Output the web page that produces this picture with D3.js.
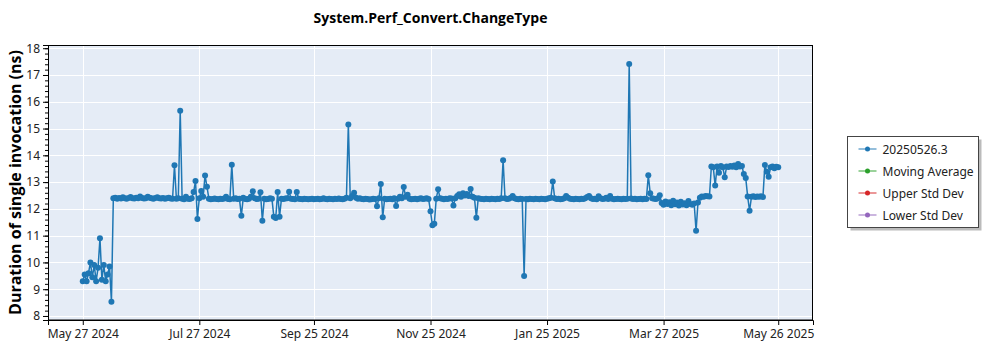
<!DOCTYPE html>
<html>
<head>
<meta charset="utf-8">
<script src="https://cdn.jsdelivr.net/npm/d3@7"></script>
<style>
  html, body { margin: 0; padding: 0; background: #fff; }
  svg { display: block; font-family: "Open Sans", "Noto Sans", sans-serif; }
</style>
</head>
<body>
<svg id="chart" width="1000" height="350"></svg>
<script>
// Benchmark run: one measurement per day, starting on this date
const startDate = "2024-05-27";

// Duration of single invocation (ns), one value per day
const durations = [
  // May 27 2024
  9.30, 9.55, 9.30, 9.60, 10.00, 9.45, 9.90, 9.30, 9.80, 10.90,
  9.35, 9.90, 9.30, 9.55, 9.85, 8.53, 12.40, 12.42, 12.38, 12.41,
  12.39, 12.43, 12.40, 12.38, 12.41, 12.44, 12.40, 12.39, 12.42, 12.40,
  12.46, 12.41, 12.39, 12.40, 12.45, 12.42, 12.40, 12.38, 12.41, 12.43,
  12.40, 12.39, 12.41, 12.38, 12.40, 12.42, 12.39, 12.38, 13.63, 12.38,
  // Jul 16 2024
  12.40, 15.66, 12.38, 12.36, 12.45, 12.38, 12.37, 12.40, 12.63, 13.04,
  11.62, 12.40, 12.67, 12.45, 13.25, 12.83, 12.38, 12.36, 12.37, 12.39,
  12.37, 12.36, 12.38, 12.37, 12.39, 12.45, 12.37, 12.36, 13.65, 12.38,
  12.40, 12.37, 12.38, 11.74, 12.42, 12.37, 12.36, 12.38, 12.45, 12.66,
  12.40, 12.37, 12.38, 12.62, 11.56, 12.38, 12.36, 12.37, 12.40, 12.38,
  // Sep 04 2024
  11.71, 11.66, 12.63, 11.71, 12.38, 12.37, 12.39, 12.40, 12.64, 12.38,
  12.37, 12.36, 12.63, 12.38, 12.37, 12.36, 12.38, 12.37, 12.36, 12.37,
  12.38, 12.36, 12.37, 12.38, 12.36, 12.37, 12.40, 12.37, 12.36, 12.38,
  12.37, 12.36, 12.38, 12.37, 12.39, 12.37, 12.36, 12.38, 12.42, 15.15,
  12.40, 12.48, 12.60, 12.42, 12.38, 12.40, 12.37, 12.36, 12.38, 12.37,
  // Oct 24 2024
  12.35, 12.36, 12.38, 12.37, 12.10, 12.40, 12.93, 11.69, 12.38, 12.36,
  12.37, 12.38, 12.36, 12.40, 12.11, 12.38, 12.45, 12.40, 12.82, 12.45,
  12.53, 12.38, 12.36, 12.37, 12.38, 12.36, 12.38, 12.40, 12.37, 12.38,
  12.40, 12.37, 11.91, 11.39, 11.44, 12.38, 12.73, 12.40, 12.38, 12.36,
  12.38, 12.37, 12.40, 12.39, 12.13, 12.40, 12.48, 12.55, 12.45, 12.58,
  // Dec 13 2024
  12.50, 12.56, 12.48, 12.74, 12.45, 12.42, 11.67, 12.40, 12.38, 12.37,
  12.36, 12.38, 12.37, 12.36, 12.38, 12.37, 12.36, 12.38, 12.37, 12.40,
  13.82, 12.40, 12.37, 12.38, 12.42, 12.48, 12.40, 12.37, 12.36, 12.38,
  12.37, 9.49, 12.37, 12.36, 12.38, 12.37, 12.36, 12.38, 12.37, 12.36,
  12.38, 12.37, 12.36, 12.38, 12.40, 12.42, 13.02, 12.40, 12.37, 12.38,
  // Feb 01 2025
  12.36, 12.37, 12.40, 12.48, 12.42, 12.38, 12.37, 12.36, 12.38, 12.37,
  12.36, 12.38, 12.37, 12.40, 12.44, 12.48, 12.40, 12.37, 12.38, 12.36,
  12.47, 12.40, 12.37, 12.38, 12.42, 12.37, 12.48, 12.38, 12.36, 12.37,
  12.38, 12.37, 12.36, 12.38, 12.37, 12.38, 17.41, 12.39, 12.37, 12.38,
  12.36, 12.37, 12.38, 12.36, 12.38, 12.37, 13.26, 12.58, 12.40, 12.38,
  // Mar 23 2025
  12.37, 12.40, 12.51, 12.22, 12.15, 12.28, 12.18, 12.25, 12.14, 12.30,
  12.17, 12.24, 12.13, 12.27, 12.16, 12.21, 12.14, 12.29, 12.18, 12.15,
  12.20, 11.18, 12.24, 12.42, 12.46, 12.45, 12.48, 12.47, 12.46, 13.58,
  13.55, 12.87, 13.58, 13.35, 13.60, 13.55, 13.18, 13.58, 13.56, 13.60,
  13.57, 13.62, 13.55, 13.68, 13.58, 13.60, 13.30, 13.15, 12.46, 11.93,
  // May 12 2025
  12.45, 12.47, 12.44, 12.46, 12.45, 12.47, 12.44, 13.64, 13.39, 13.20,
  13.55, 13.58, 13.52, 13.57, 13.55
];

const yTickValues = [8, 9, 10, 11, 12, 13, 14, 15, 16, 17, 18];
const xTickDates = ["2024-05-27", "2024-07-27", "2024-09-25", "2024-11-25",
                    "2025-01-25", "2025-03-27", "2025-05-26"];

const titleText = "System.Perf_Convert.ChangeType";
const yAxisTitle = "Duration of single invocation (ns)";
const legendNames = ["20250526.3", "Moving Average", "Upper Std Dev", "Lower Std Dev"];
const legendColors = ["#1f77b4", "#2ca02c", "#d62728", "#9467bd"];

// ---- layout ----
const W = 1000, H = 350;
const margin = { top: 45, right: 187, bottom: 30, left: 48 };
const plotW = W - margin.left - margin.right;
const plotH = H - margin.top - margin.bottom;

const parse = d3.utcParse("%Y-%m-%d");
const t0 = parse(startDate);
const points = durations.map((v, i) => ({ date: d3.utcDay.offset(t0, i), value: v }));

// 5% padding either side of the data range
const [dMin, dMax] = d3.extent(points, d => d.date);
const pad = (dMax - dMin) * 0.05;
const x = d3.scaleUtc()
  .domain([new Date(+dMin - pad), new Date(+dMax + pad)])
  .range([margin.left, margin.left + plotW]);
const y = d3.scaleLinear()
  .domain([7.85, 18.12])
  .range([margin.top + plotH, margin.top]);

const svg = d3.select("#chart");
svg.append("rect").attr("width", W).attr("height", H).attr("fill", "#fff");

// plot background
svg.append("rect")
  .attr("x", margin.left).attr("y", margin.top)
  .attr("width", plotW).attr("height", plotH)
  .attr("fill", "#E5ECF6");

const xTicks = xTickDates.map(parse);

// grid lines
const grid = svg.append("g").attr("stroke", "#fff").attr("stroke-width", 1);
grid.selectAll("line.h").data(yTickValues).join("line")
  .attr("x1", margin.left).attr("x2", margin.left + plotW)
  .attr("y1", d => Math.round(y(d)) + 0.5).attr("y2", d => Math.round(y(d)) + 0.5);
grid.selectAll("line.v").data(xTicks).join("line")
  .attr("y1", margin.top).attr("y2", margin.top + plotH)
  .attr("x1", d => Math.round(x(d)) + 0.5).attr("x2", d => Math.round(x(d)) + 0.5);

// series line + markers
const clip = svg.append("clipPath").attr("id", "plotclip")
  .append("rect").attr("x", margin.left).attr("y", margin.top)
  .attr("width", plotW).attr("height", plotH);

const series = svg.append("g").attr("clip-path", "url(#plotclip)");
series.append("path")
  .datum(points)
  .attr("fill", "none")
  .attr("stroke", legendColors[0])
  .attr("stroke-width", 1.5)
  .attr("stroke-linejoin", "round")
  .attr("d", d3.line().x(d => x(d.date)).y(d => y(d.value)));
series.selectAll("circle").data(points).join("circle")
  .attr("cx", d => x(d.date)).attr("cy", d => y(d.value))
  .attr("r", 3)
  .attr("fill", legendColors[0]);

// axes
const xAxis = d3.axisBottom(x)
  .tickValues(xTicks)
  .tickFormat(d3.utcFormat("%b %d %Y"))
  .tickSize(5).tickPadding(4);
const gx = svg.append("g")
  .attr("transform", `translate(0,${margin.top + plotH})`)
  .call(xAxis);

const yMinor = d3.range(8, 18.001, 0.2).map(v => +v.toFixed(1));
const gyMinor = svg.append("g")
  .attr("transform", `translate(${margin.left},0)`)
  .call(d3.axisLeft(y).tickValues(yMinor).tickSize(3).tickFormat(""));
gyMinor.select(".domain").remove();

const gy = svg.append("g")
  .attr("transform", `translate(${margin.left},0)`)
  .call(d3.axisLeft(y).tickValues(yTickValues).tickSize(5).tickPadding(3));

[gx, gy, gyMinor].forEach(g => {
  g.selectAll("text").attr("font-size", 12).attr("fill", "#222")
    .attr("font-family", "'Noto Sans', sans-serif");
  g.selectAll("line").attr("stroke", "#000");
  g.select(".domain").attr("stroke", "#000");
});

// frame around the plot area
svg.append("rect")
  .attr("x", margin.left + 0.5).attr("y", margin.top + 0.5)
  .attr("width", plotW - 1).attr("height", plotH - 0.5)
  .attr("fill", "none").attr("stroke", "#000").attr("stroke-width", 1);

// titles
svg.append("text")
  .attr("x", margin.left + plotW / 2).attr("y", 23)
  .attr("text-anchor", "middle")
  .attr("font-size", 14).attr("font-weight", "bold").attr("fill", "#000")
  .text(titleText);

svg.append("text")
  .attr("transform", `translate(15,${margin.top + plotH / 2}) rotate(-90)`)
  .attr("text-anchor", "middle").attr("dominant-baseline", "central")
  .attr("font-size", 16).attr("font-weight", "bold").attr("fill", "#000")
  .text(yAxisTitle);

// legend
const lg = svg.append("g").attr("transform", "translate(847.5,136.5)");
lg.append("rect").attr("x", 3).attr("y", 3).attr("width", 131).attr("height", 91)
  .attr("fill", "#bbb");
lg.append("rect").attr("width", 131).attr("height", 91)
  .attr("fill", "#fff").attr("stroke", "#444").attr("stroke-width", 1);
const items = lg.selectAll("g.item").data(legendNames).join("g")
  .attr("transform", (d, i) => `translate(0,${12.5 + i * 22})`);
items.append("line")
  .attr("x1", 11).attr("x2", 29).attr("y1", 0).attr("y2", 0)
  .attr("stroke", (d, i) => legendColors[i]).attr("stroke-width", 1.2)
  .attr("stroke-opacity", 0.8);
items.append("circle").attr("cx", 20).attr("cy", 0).attr("r", 2.5)
  .attr("fill", (d, i) => legendColors[i]);
items.append("text").attr("x", 35).attr("y", 0)
  .attr("dominant-baseline", "central")
  .attr("font-size", 12).attr("fill", "#222")
  .attr("font-family", "'Noto Sans', sans-serif")
  .text(d => d);
</script>
</body>
</html>
